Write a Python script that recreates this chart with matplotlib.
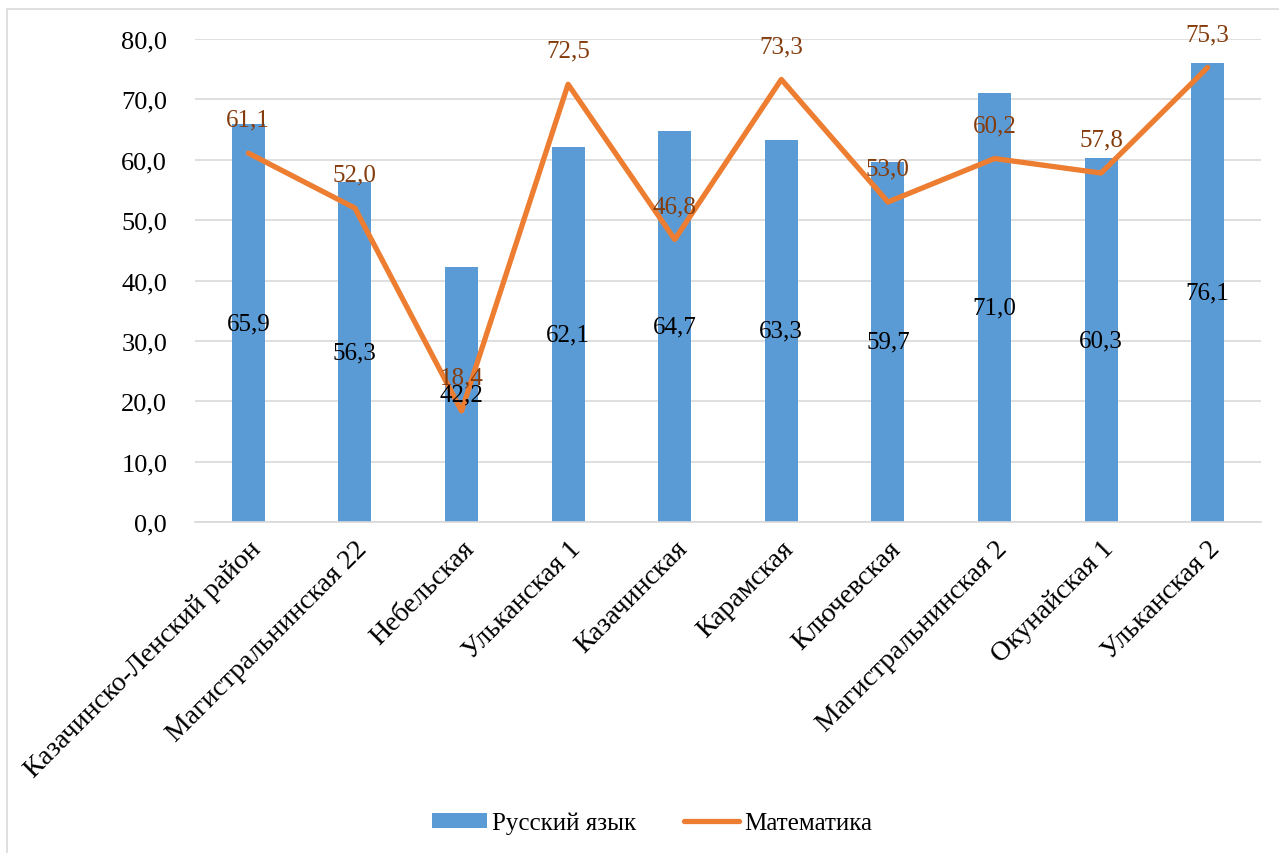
import matplotlib.pyplot as plt
from matplotlib.patches import Rectangle
import numpy as np

plt.rcParams['font.family'] = ['Liberation Serif', 'DejaVu Serif']

# Data
schools = ['Казачинско-Ленский район', 'Магистральнинская 22', 'Небельская',
           'Ульканская 1', 'Казачинская', 'Карамская', 'Ключевская',
           'Магистральнинская 2', 'Окунайская 1', 'Ульканская 2']
russian = [65.9, 56.3, 42.2, 62.1, 64.7, 63.3, 59.7, 71.0, 60.3, 76.1]
math = [61.1, 52.0, 18.4, 72.5, 46.8, 73.3, 53.0, 60.2, 57.8, 75.3]


def fmt(v):
    return f"{v:.1f}".replace('.', ',')


fig = plt.figure(figsize=(12.79, 8.54), dpi=100)
# outer chart frame
fig.patches.append(Rectangle((7 / 1279, -0.05), 1.1, 1 - 10 / 854 + 0.05,
                             transform=fig.transFigure, fill=False,
                             edgecolor='#D9D9D9', linewidth=1.2))

ax = fig.add_axes([195 / 1279, 1 - 523 / 854, (1261 - 195) / 1279, (523 - 40) / 854])
x = np.arange(len(schools))

bars = ax.bar(x, russian, width=0.31, color='#5B9BD5', label='Русский язык', zorder=2)
line, = ax.plot(x, math, color='#ED7D31', linewidth=3.8, solid_capstyle='round',
                label='Математика', zorder=3)

for xi, v in zip(x, russian):
    ax.text(xi, v / 2, fmt(v), ha='center', va='center', fontsize=18, color='black', zorder=4)
for xi, v in zip(x, math):
    ax.annotate(fmt(v), (xi, v), xytext=(0, 24), textcoords='offset points',
                ha='center', va='center', fontsize=18, color='#843C0C', zorder=4)

ax.set_xlim(-0.5, len(schools) - 0.5)
ax.set_ylim(0, 80)
ax.set_yticks(np.arange(0, 81, 10))
ax.set_yticklabels([fmt(v) for v in np.arange(0, 81, 10)], fontsize=19)
ax.yaxis.grid(True, color='#D9D9D9', linewidth=1.2, zorder=0)
ax.set_axisbelow(True)
ax.set_xticks(x)
ax.set_xticklabels(schools, rotation=45, ha='right', rotation_mode='anchor', fontsize=20)
ax.tick_params(axis='y', length=0, pad=20)
ax.tick_params(axis='x', length=0, pad=10)
for s in ['top', 'right', 'left']:
    ax.spines[s].set_visible(False)
ax.spines['bottom'].set_color('#D9D9D9')
ax.spines['bottom'].set_linewidth(1.2)

fig.legend([bars, line], ['Русский язык', 'Математика'], loc='center',
           bbox_to_anchor=(652 / 1279, 1 - 824 / 854), ncol=2,
           frameon=False, fontsize=18, handlelength=2.2, handleheight=0.6,
           columnspacing=1.9, handletextpad=0.2)

fig.savefig('out.png', dpi=100)
